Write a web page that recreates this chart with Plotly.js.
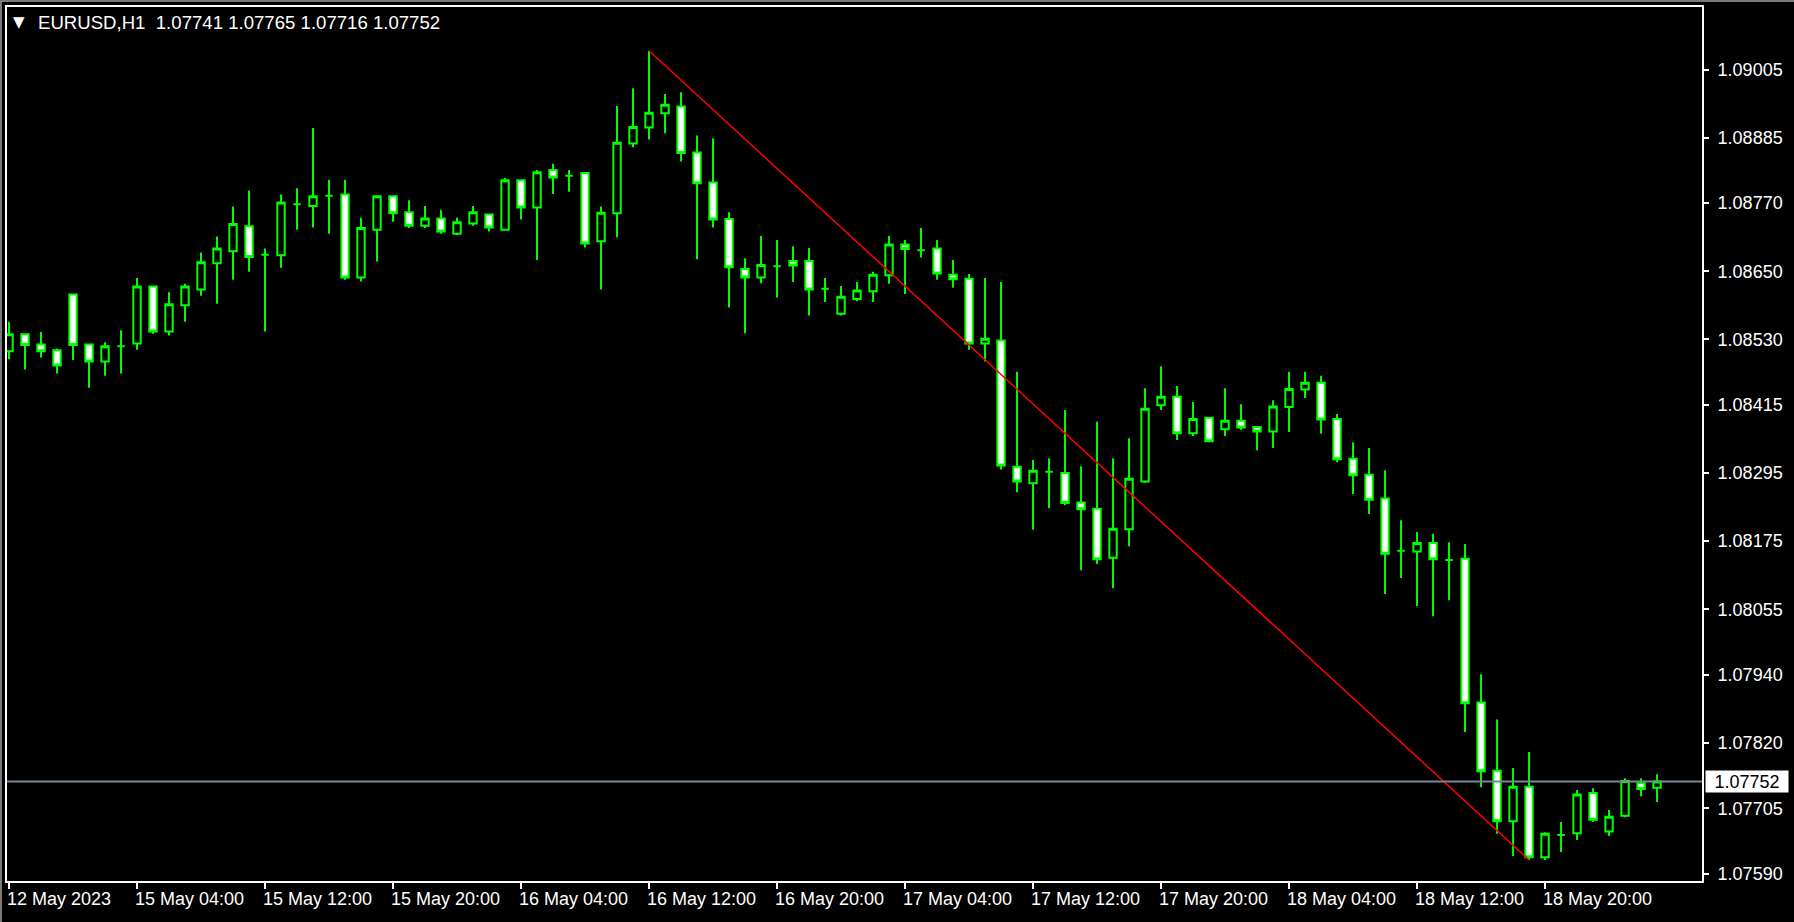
<!DOCTYPE html>
<html><head><meta charset="utf-8">
<script src="https://cdn.plot.ly/plotly-3.0.1.min.js"></script>
<style>
html,body{margin:0;padding:0;background:#000;overflow:hidden}
#chart{position:absolute;left:0;top:0;width:1794px;height:922px}
#frame{position:absolute;left:0;top:0;width:1794px;height:922px;box-sizing:border-box;border-top:2px solid #7a7a7a;border-left:2px solid #7a7a7a;pointer-events:none}
</style></head>
<body><div id="chart"></div><div id="frame"></div>
<script>
const symbol = 'EURUSD,H1';
const openP = [1.08509,1.08539,1.08521,1.08511,1.08609,1.08521,1.08491,1.08518,1.08523,1.08623,
1.08544,1.08590,1.08618,1.08664,1.08685,1.08729,1.08679,1.08678,1.08768,1.08765,
1.08783,1.08785,1.08639,1.08723,1.08782,1.08754,1.08730,1.08743,1.08716,1.08734,
1.08750,1.08723,1.08810,1.08762,1.08828,1.08818,1.08823,1.08703,1.08752,1.08875,
1.08903,1.08928,1.08940,1.08859,1.08806,1.08742,1.08654,1.08639,1.08659,1.08668,
1.08668,1.08619,1.08575,1.08601,1.08615,1.08643,1.08697,1.08687,1.08690,1.08644,
1.08637,1.08523,1.08528,1.08306,1.08277,1.08297,1.08295,1.08243,1.08232,1.08146,
1.08196,1.08280,1.08414,1.08429,1.08365,1.08392,1.08372,1.08387,1.08376,1.08368,
1.08411,1.08442,1.08454,1.08390,1.08320,1.08292,1.08250,1.08158,1.08157,1.08172,
1.08142,1.08144,1.07891,1.07771,1.07682,1.07743,1.07619,1.07658,1.07661,1.07732,
1.07664,1.07692,1.07749,1.07741];
const highP = [1.08561,1.08539,1.08543,1.08514,1.08609,1.08521,1.08525,1.08546,1.08638,1.08623,
1.08613,1.08628,1.08683,1.08711,1.08764,1.08792,1.08690,1.08785,1.08796,1.08902,
1.08811,1.08811,1.08744,1.08782,1.08782,1.08775,1.08765,1.08758,1.08744,1.08765,
1.08750,1.08814,1.08810,1.08828,1.08839,1.08828,1.08823,1.08764,1.08941,1.08972,
1.09038,1.08962,1.08965,1.08889,1.08884,1.08754,1.08673,1.08712,1.08705,1.08694,
1.08691,1.08638,1.08624,1.08631,1.08649,1.08712,1.08705,1.08726,1.08705,1.08670,
1.08645,1.08638,1.08631,1.08473,1.08318,1.08321,1.08406,1.08307,1.08385,1.08321,
1.08356,1.08444,1.08483,1.08448,1.08420,1.08392,1.08444,1.08416,1.08376,1.08423,
1.08473,1.08473,1.08466,1.08399,1.08349,1.08339,1.08300,1.08212,1.08191,1.08188,
1.08173,1.08170,1.07941,1.07861,1.07776,1.07804,1.07663,1.07681,1.07737,1.07740,
1.07702,1.07758,1.07758,1.07765];
const lowP = [1.08495,1.08477,1.08498,1.08470,1.08494,1.08445,1.08466,1.08470,1.08512,1.08540,
1.08537,1.08561,1.08607,1.08593,1.08635,1.08649,1.08544,1.08656,1.08723,1.08727,
1.08716,1.08635,1.08632,1.08667,1.08737,1.08726,1.08726,1.08716,1.08714,1.08730,
1.08720,1.08722,1.08741,1.08670,1.08786,1.08790,1.08692,1.08618,1.08710,1.08868,
1.08882,1.08893,1.08843,1.08671,1.08727,1.08586,1.08541,1.08629,1.08604,1.08631,
1.08572,1.08596,1.08572,1.08597,1.08596,1.08628,1.08610,1.08674,1.08635,1.08621,
1.08512,1.08491,1.08301,1.08261,1.08195,1.08233,1.08238,1.08124,1.08135,1.08092,
1.08166,1.08278,1.08406,1.08353,1.08360,1.08349,1.08360,1.08371,1.08335,1.08339,
1.08367,1.08427,1.08364,1.08314,1.08258,1.08223,1.08082,1.08110,1.08061,1.08043,
1.08071,1.07839,1.07742,1.07660,1.07621,1.07614,1.07614,1.07628,1.07649,1.07681,
1.07656,1.07689,1.07726,1.07716];
const closeP = [1.08539,1.08520,1.08509,1.08484,1.08520,1.08491,1.08518,1.08518,1.08623,1.08544,
1.08592,1.08623,1.08666,1.08690,1.08733,1.08675,1.08679,1.08771,1.08768,1.08782,
1.08783,1.08639,1.08726,1.08782,1.08752,1.08730,1.08743,1.08720,1.08736,1.08754,
1.08727,1.08810,1.08762,1.08824,1.08815,1.08818,1.08699,1.08753,1.08876,1.08904,
1.08929,1.08943,1.08858,1.08805,1.08741,1.08657,1.08639,1.08661,1.08659,1.08660,
1.08618,1.08619,1.08605,1.08616,1.08644,1.08697,1.08689,1.08687,1.08646,1.08636,
1.08523,1.08531,1.08308,1.08280,1.08299,1.08297,1.08242,1.08231,1.08143,1.08197,
1.08285,1.08408,1.08429,1.08365,1.08390,1.08351,1.08387,1.08375,1.08368,1.08412,
1.08443,1.08454,1.08389,1.08319,1.08291,1.08248,1.08153,1.08158,1.08172,1.08143,
1.08142,1.07890,1.07770,1.07682,1.07743,1.07619,1.07660,1.07658,1.07729,1.07685,
1.07690,1.07753,1.07739,1.07752];
const tickPos = [0,8,16,24,32,40,48,56,64,72,80,88,96];
const tickLabels = ['12 May 2023','15 May 04:00','15 May 12:00','15 May 20:00','16 May 04:00','16 May 12:00','16 May 20:00','17 May 04:00','17 May 12:00','17 May 20:00','18 May 04:00','18 May 12:00','18 May 20:00'];
const priceTicks = [1.09005,1.08885,1.08770,1.08650,1.08530,1.08415,1.08295,1.08175,1.08055,1.07940,1.07820,1.07705,1.07590];
const priceTickLabels = ['1.09005','1.08885','1.08770','1.08650','1.08530','1.08415','1.08295','1.08175','1.08055','1.07940','1.07820','1.07705','1.07590'];
const trendX = [40, 95];
const trendY = [1.09038, 1.07614];
const lastPrice = 1.07752;

const barX = openP.map((_, i) => i);
const FONT = 'Liberation Sans, Arial, sans-serif';
const n = openP.length - 1;
const headerText = symbol + '\u00a0\u00a0' + [openP[n], highP[n], lowP[n], closeP[n]].map(v => v.toFixed(5)).join(' ');

const traces = [
  {
    type: 'candlestick', x: barX, open: openP, high: highP, low: lowP, close: closeP,
    increasing: {line: {color: '#00ff00', width: 2}, fillcolor: '#000000'},
    decreasing: {line: {color: '#00ff00', width: 2}, fillcolor: '#ffffff'},
    whiskerwidth: 0, hoverinfo: 'skip', showlegend: false
  },
  {
    type: 'scatter', mode: 'lines', x: trendX, y: trendY,
    line: {color: '#ff0000', width: 1.5}, hoverinfo: 'skip', showlegend: false
  }
];

const layout = {
  width: 1794, height: 922,
  margin: {l: 7, r: 92, t: 7, b: 41, pad: 0},
  paper_bgcolor: '#000000', plot_bgcolor: '#000000',
  showlegend: false,
  boxgap: 0.34, boxgroupgap: 0.3,
  font: {family: FONT, color: '#ffffff', size: 18},
  xaxis: {
    range: [-0.125, 105.81], showgrid: false, zeroline: false,
    showline: true, linecolor: '#ffffff', linewidth: 2, mirror: true,
    ticks: 'outside', ticklen: 6, tickwidth: 2, tickcolor: '#ffffff',
    tickvals: tickPos, ticktext: tickLabels, ticklabelposition: 'outside right',
    ticklabelshift: -4,
    tickfont: {family: FONT, color: '#ffffff', size: 18},
    rangeslider: {visible: false}, fixedrange: true
  },
  yaxis: {
    side: 'right', range: [1.07577, 1.09115], showgrid: false, zeroline: false,
    showline: true, linecolor: '#ffffff', linewidth: 2, mirror: true,
    ticks: 'outside', ticklen: 5, tickwidth: 2, tickcolor: '#ffffff',
    tickvals: priceTicks, ticktext: priceTickLabels,
    tickfont: {family: FONT, color: '#ffffff', size: 18},
    ticklabelstandoff: 5, fixedrange: true
  },
  shapes: [
    {type: 'line', xref: 'paper', x0: 0, x1: 1, yref: 'y', y0: lastPrice, y1: lastPrice,
     line: {color: '#778899', width: 2}, layer: 'above'}
  ],
  annotations: [
    {xref: 'paper', yref: 'y', x: 1, y: lastPrice, xanchor: 'left', yanchor: 'middle', xshift: 3,
     text: lastPrice.toFixed(5), showarrow: false, bgcolor: '#ffffff', width: 78, height: 17, borderpad: 2,
     font: {family: FONT, color: '#000000', size: 18}},
    {xref: 'paper', yref: 'paper', x: 4 / 1695, y: 1 - 15 / 874, xanchor: 'left', yanchor: 'middle',
     text: '\u25BC', showarrow: false, font: {family: 'DejaVu Sans', color: '#ffffff', size: 15}},
    {xref: 'paper', yref: 'paper', x: 29 / 1695, y: 1 - 15 / 874, xanchor: 'left', yanchor: 'middle',
     text: headerText, showarrow: false, font: {family: FONT, color: '#ffffff', size: 18.6}}
  ]
};

Plotly.newPlot('chart', traces, layout, {staticPlot: true, displayModeBar: false});
</script></body></html>
